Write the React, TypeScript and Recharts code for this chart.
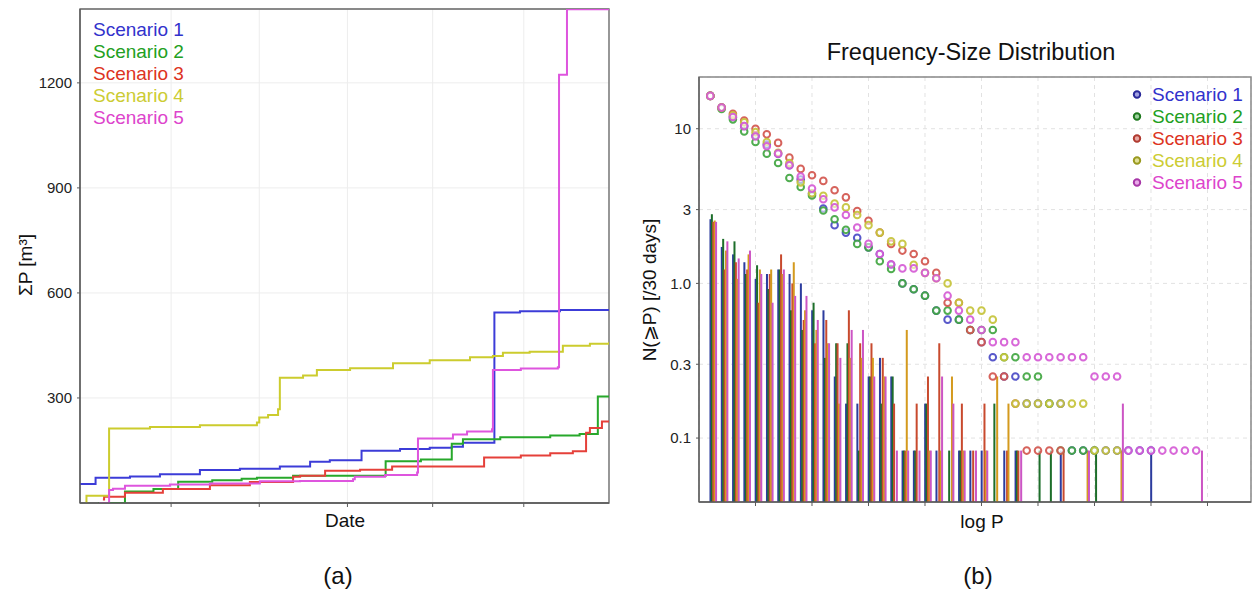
import React from 'react';
import { LineChart, ComposedChart, Line, Bar, Scatter, XAxis, YAxis, CartesianGrid, ReferenceArea } from 'recharts';

const FONT = '"Liberation Sans", Arial, Helvetica, sans-serif';

const scenarioNames = ['Scenario 1', 'Scenario 2', 'Scenario 3', 'Scenario 4', 'Scenario 5'];
const lineColors = ['#3c3cd8', '#27a82b', '#e5403a', '#cccc2e', '#de55de'];
const textColors = ['#3232cc', '#22a022', '#dd3322', '#cccc33', '#dd44cc'];
const ringColors = ['#4646c4', '#3da43d', '#d2524a', '#c4c236', '#d458d4'];
const barColors = ['#2c3c9e', '#1d6e2a', '#c84a2e', '#d49a1e', '#cc55c4'];
const legendDotColors = ['#2a2a9a', '#1f7a1f', '#b03a30', '#9a9a20', '#a838a8'];

// ---------- (a) cumulative volume, [day, ΣP m³] ----------
const dateTicks = [31, 61, 91, 120, 151];
const cumTicks = [300, 600, 900, 1200];

const cumS1: [number, number][] = [[0, 54], [5.3, 72], [17, 76], [27.2, 82], [40.8, 94], [54.4, 98], [68, 104], [78.3, 118], [85, 122], [95.8, 149], [108.9, 154], [119, 158], [126.5, 161], [130.3, 172], [141, 544], [149.7, 548], [163.3, 551], [180, 553]];
const cumS2: [number, number][] = [[6.1, 0], [15.3, 33], [25, 40], [33.4, 61], [45, 65], [55, 69], [60.2, 72], [72.5, 78], [104, 119], [116, 124], [126.5, 169], [130.3, 182], [143, 188], [160, 193], [170, 197], [176.2, 304], [180, 304]];
const cumS3: [number, number][] = [[7.8, 10], [8.2, 18], [15.3, 29], [28.2, 40], [44.2, 51], [57.8, 60], [72.5, 75], [74.9, 78], [83.4, 92], [95.3, 95], [106.2, 104], [137.5, 130], [150, 136], [160, 142], [167.7, 148], [172.2, 201], [173.5, 214], [177.6, 233], [180, 233]];
const cumS4: [number, number][] = [[2, 0], [2.2, 21], [9.9, 213], [23.8, 217], [40.8, 222], [60.2, 230], [61, 244], [64, 251], [67.4, 268], [68, 358], [75.9, 364], [80.6, 380], [91.9, 385], [106.5, 399], [119, 408], [132.7, 416], [140.5, 420], [143.9, 429], [153, 432], [164.3, 449], [173.5, 455], [180, 459]];
const cumS5: [number, number][] = [[6.5, 0], [9.9, 37], [11.2, 41], [15.3, 49], [30.6, 53], [44.2, 56], [61.2, 62], [74.9, 63], [92.9, 68], [93.5, 75], [103.8, 80], [114.7, 87], [115, 184], [126.9, 196], [131.7, 204], [140.2, 211], [140.5, 380], [150, 384], [162.6, 388], [163, 1223], [165.7, 1410], [180, 1410]];

// ---------- (b) frequency-size distribution ----------
const logPBins = [0.2, 0.4, 0.6, 0.8, 1.0, 1.2, 1.4, 1.6, 1.8, 2.0, 2.2, 2.4, 2.6, 2.8, 3.0, 3.2, 3.4, 3.6, 3.8, 4.0, 4.2, 4.4, 4.6, 4.8, 5.0, 5.2, 5.4, 5.6, 5.8, 6.0, 6.2, 6.4, 6.6, 6.8, 7.0, 7.2, 7.4, 7.6, 7.8, 8.0, 8.2, 8.4, 8.6, 8.8];
const logPTicks = [1, 2, 3, 4, 5, 6, 7, 8, 9];
const freqTicks = [0.1, 0.3, 1, 3, 10];

// cumulative N(>=P) per 30 days
const nS1 = [16.3, 13.7, 11.9, 10.4, 9.0, 7.9, 6.9, 5.8, 4.7, 3.8, 3.05, 2.38, 2.13, 1.97, 1.71, 1.55, 1.32, 1.0, 0.917, 0.833, 0.667, 0.583, 0.583, 0.5, 0.417, 0.333, 0.25, 0.25, 0.167, 0.167, 0.167, 0.167, 0.083, 0.083, 0.083, 0.083, 0.083, 0.083, 0.083, 0.083, null, null, null, null];
const nS2 = [16.3, 13.4, 11.5, 9.6, 8.2, 6.9, 6.0, 4.8, 4.2, 3.7, 2.96, 2.6, 2.22, 1.8, 1.71, 1.39, 1.24, 1.0, 0.917, 0.833, 0.667, 0.667, 0.583, 0.5, 0.5, 0.5, 0.333, 0.333, 0.25, 0.25, 0.167, 0.083, 0.083, 0.083, 0.083, null, null, null, null, null, null, null, null, null];
const nS3 = [16.3, 13.7, 12.5, 11.3, 10.0, 9.2, 8.1, 6.5, 5.5, 5.0, 4.6, 4.0, 3.6, 2.94, 2.54, 2.13, 1.8, 1.63, 1.55, 1.39, 1.17, 0.75, 0.75, 0.5, 0.417, 0.25, 0.25, 0.167, 0.083, 0.083, 0.083, 0.083, null, null, null, null, null, null, null, null, null, null, null, null];
const nS4 = [16.3, 13.7, 12.2, 11.0, 9.5, 8.2, 7.0, 6.0, 4.5, 3.83, 3.69, 3.28, 3.1, 2.77, 2.38, 2.13, 1.87, 1.8, 1.32, 1.17, 1.08, 1.0, 0.75, 0.667, 0.667, 0.583, 0.333, 0.167, 0.167, 0.167, 0.167, 0.167, 0.167, 0.167, 0.083, 0.083, 0.083, null, null, null, null, null, null, null];
const nS5 = [16.3, 13.7, 11.9, 10.4, 8.9, 7.7, 6.9, 5.8, 4.9, 4.1, 3.5, 3.1, 2.77, 2.3, 1.8, 1.55, 1.33, 1.25, 1.25, 1.17, 1.08, 0.833, 0.667, 0.583, 0.5, 0.417, 0.417, 0.417, 0.333, 0.333, 0.333, 0.333, 0.333, 0.333, 0.25, 0.25, 0.25, 0.083, 0.083, 0.083, 0.083, 0.083, 0.083, 0.083];

// events per bin per 30 days
const histS1 = [2.6, 1.72, 1.54, 1.37, 1.07, 1.15, 1.23, 1.15, 1.0, 0.67, 0.67, 0.25, 0.167, 0.167, 0.25, 0.33, 0.25, 0.083, 0.083, 0.167, 0.083, null, 0.083, 0.083, 0.083, null, 0.083, 0.083, null, null, null, 0.083, null, null, null, null, null, null, null, 0.083, null, null, null, null];
const histS2 = [2.8, 1.94, 1.87, 1.15, 1.31, 0.92, 1.23, 0.67, 0.5, 0.75, 0.33, 0.41, 0.41, 0.083, 0.25, 0.167, 0.25, 0.083, 0.083, 0.167, null, 0.083, 0.083, null, null, 0.167, null, 0.083, null, 0.083, 0.083, null, null, null, 0.083, null, null, null, null, null, null, null, null, null];
const histS3 = [2.5, 1.23, 1.37, 1.23, 0.75, 1.15, 1.54, 1.0, 0.58, 0.41, 0.58, 0.41, 0.67, 0.41, 0.41, 0.33, 0.167, 0.083, 0.167, 0.25, 0.41, null, 0.167, 0.083, 0.167, null, 0.083, 0.083, null, null, null, 0.083, null, null, null, null, null, null, null, null, null, null, null, null];
const histS4 = [2.55, 1.63, 1.07, 1.54, 1.23, 1.23, 1.15, 1.37, 0.67, 0.5, 0.41, 0.167, 0.33, 0.33, 0.33, 0.25, null, 0.5, null, 0.083, 0.083, 0.25, 0.083, null, 0.083, 0.25, 0.167, null, null, null, null, null, null, 0.083, null, null, 0.083, null, null, null, null, null, null, null];
const histS5 = [2.5, 1.87, 1.45, 1.63, 1.15, 0.75, 1.23, 0.83, 0.83, 0.58, 0.41, 0.33, 0.5, 0.5, 0.25, 0.25, 0.083, 0.083, 0.083, 0.083, 0.25, 0.167, 0.083, 0.083, 0.083, null, null, 0.083, null, null, null, null, null, 0.083, null, null, 0.167, null, null, null, null, null, null, 0.083];

const cumSeries = [cumS1, cumS2, cumS3, cumS4, cumS5];
const nSeries = [nS1, nS2, nS3, nS4, nS5];
const histKeys = ['s1', 's2', 's3', 's4', 's5'];
const BAR_OFFSET = 0.05;

const histData = logPBins.map((x, k) => ({
  x: x + BAR_OFFSET,
  s1: histS1[k], s2: histS2[k], s3: histS3[k], s4: histS4[k], s5: histS5[k],
}));

const scatterData = nSeries.map((arr) =>
  logPBins.map((x, k) => ({ x, y: arr[k] })).filter((d) => d.y != null)
);

const barShape = (key: string, color: string) => (props: any) => {
  const { x, y, width, height, payload } = props;
  if (!payload || payload[key] == null || !isFinite(y) || !isFinite(height) || height <= 0) return <g />;
  return <rect x={x} y={y} width={width} height={height} fill={color} />;
};

const ringShape = (color: string) => (props: any) => {
  const { cx, cy } = props;
  if (!isFinite(cx) || !isFinite(cy)) return <g />;
  return (
    <circle cx={cx} cy={cy} r={3.3} fill="#ffffff" fillOpacity={0.55} stroke={color} strokeWidth={2} strokeOpacity={0.9} />
  );
};

const fmtFreq = (v: number) => (v === 1 ? '1.0' : String(v));

const abs = (left: number, top: number, extra: React.CSSProperties = {}): React.CSSProperties => ({
  position: 'absolute', left, top, fontFamily: FONT, whiteSpace: 'nowrap', lineHeight: 1, ...extra,
});

const LEFT_X: [number, number] = [0, 180];
const LEFT_DOMAIN: [number, number] = [0, 1411];
const LOG_DOMAIN: [number, number] = [0.0386, 21.6];
const X_DOMAIN: [number, number] = [0, 9.77];

export default function App() {
  const frame = { stroke: '#5a5a5a', strokeWidth: 1.3 };
  const tickStyle = { fill: '#222', fontSize: 15, fontFamily: FONT };
  return (
    <div style={{ position: 'absolute', left: 0, top: 0, width: 1253, height: 592, background: '#fff', overflow: 'hidden' }}>
      {/* (a) */}
      <div style={{ position: 'absolute', left: 0, top: 0 }}>
        <LineChart width={620} height={592} margin={{ top: 9, right: 11, bottom: 59, left: 0 }}>
          <CartesianGrid stroke="#ededed" />
          <XAxis type="number" dataKey="d" domain={LEFT_X} ticks={dateTicks} allowDataOverflow
            tickFormatter={() => ''} tickSize={4} height={30} axisLine={frame} tickLine={{ stroke: '#5a5a5a' }} />
          <YAxis type="number" domain={LEFT_DOMAIN} ticks={cumTicks} allowDataOverflow width={80} tickSize={3} tickMargin={5}
            tick={tickStyle} axisLine={frame} tickLine={{ stroke: '#5a5a5a' }} />
          <ReferenceArea x1={LEFT_X[0]} x2={LEFT_X[1]} y1={LEFT_DOMAIN[0]} y2={LEFT_DOMAIN[1]} fill="none" fillOpacity={0}
            stroke="#666" strokeWidth={1.3} ifOverflow="visible" />
          {cumSeries.map((s, i) => (
            <Line key={i} data={s.map(([d, v]) => ({ d, v }))} dataKey="v" type="stepAfter" stroke={lineColors[i]}
              strokeWidth={2} dot={false} isAnimationActive={false} />
          ))}
        </LineChart>
      </div>

      {/* (b) bars */}
      <div style={{ position: 'absolute', left: 620, top: 0 }}>
        <ComposedChart width={633} height={592} data={histData} margin={{ top: 77, right: 2, bottom: 60, left: 0 }} barGap={-0.6} barSize={2}>
          <CartesianGrid stroke="#e2e2e2" strokeDasharray="4 4" />
          <XAxis type="number" dataKey="x" domain={X_DOMAIN} ticks={logPTicks} allowDataOverflow tickFormatter={() => ''}
            tickSize={4} height={30} axisLine={frame} tickLine={{ stroke: '#5a5a5a' }} />
          <YAxis scale="log" type="number" domain={LOG_DOMAIN} ticks={freqTicks} allowDataOverflow width={79} tickSize={3} tickMargin={5}
            tickFormatter={fmtFreq} tick={tickStyle} axisLine={frame} tickLine={{ stroke: '#5a5a5a' }} />
          <ReferenceArea x1={X_DOMAIN[0]} x2={X_DOMAIN[1]} y1={LOG_DOMAIN[0]} y2={LOG_DOMAIN[1]} fill="none" fillOpacity={0}
            stroke="#888" strokeWidth={1.5} ifOverflow="visible" />
          {histKeys.map((k, i) => (
            <Bar key={k} dataKey={k} fill={barColors[i]} minPointSize={0} isAnimationActive={false} shape={barShape(k, barColors[i])} />
          ))}
        </ComposedChart>
      </div>

      {/* (b) points overlay */}
      <div style={{ position: 'absolute', left: 620, top: 0, pointerEvents: 'none' }}>
        <ComposedChart width={633} height={592} margin={{ top: 77, right: 2, bottom: 60, left: 0 }}>
          <XAxis type="number" dataKey="x" domain={X_DOMAIN} allowDataOverflow height={30} tick={false} tickLine={false} axisLine={false} />
          <YAxis scale="log" type="number" dataKey="y" domain={LOG_DOMAIN} allowDataOverflow width={79} tick={false} tickLine={false} axisLine={false} />
          {scatterData.map((d, i) => (
            <Scatter key={i} data={d} dataKey="y" fill={ringColors[i]} isAnimationActive={false} shape={ringShape(ringColors[i])} />
          ))}
        </ComposedChart>
      </div>

      {/* texts (a) */}
      {scenarioNames.map((n, i) => (
        <div key={'la' + i} style={abs(93, 29 + 22 * i, { fontSize: 19, color: textColors[i], transform: 'translateY(-50%)' })}>{n}</div>
      ))}
      <div style={abs(25, 265, { fontSize: 19, color: '#111', transform: 'translate(-50%,-50%) rotate(-90deg)' })}>ΣP [m³]</div>
      <div style={abs(345, 520, { fontSize: 19, color: '#111', transform: 'translate(-50%,-50%)' })}>Date</div>
      <div style={abs(338, 576, { fontSize: 24, color: '#111', transform: 'translate(-50%,-50%)' })}>(a)</div>

      {/* texts (b) */}
      <div style={abs(971, 53, { fontSize: 23.5, color: '#111', transform: 'translate(-50%,-50%)' })}>Frequency-Size Distribution</div>
      {scenarioNames.map((n, i) => (
        <div key={'lb' + i} style={abs(1131, 94 + 22 * i, { fontSize: 19, color: textColors[i], transform: 'translateY(-50%)', display: 'flex', alignItems: 'center' })}>
          <svg width={12} height={12} style={{ marginRight: 9 }}>
            <circle cx={6} cy={6} r={3.2} fill={ringColors[i]} fillOpacity={0.5} stroke={legendDotColors[i]} strokeWidth={2} />
          </svg>
          <span>{n}</span>
        </div>
      ))}
      <div style={abs(649, 290, { fontSize: 19, color: '#111', transform: 'translate(-50%,-50%) rotate(-90deg)' })}>N(⩾P) [/30 days]</div>
      <div style={abs(982, 521, { fontSize: 19, color: '#111', transform: 'translate(-50%,-50%)' })}>log P</div>
      <div style={abs(978, 576, { fontSize: 24, color: '#111', transform: 'translate(-50%,-50%)' })}>(b)</div>
    </div>
  );
}
